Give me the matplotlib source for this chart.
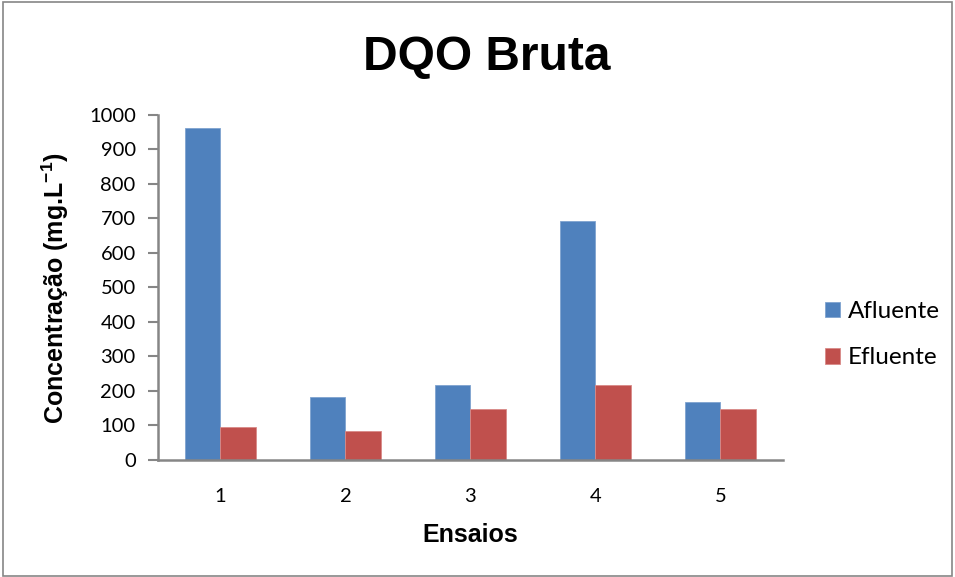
import numpy as np
import matplotlib
matplotlib.use("Agg")
import matplotlib.pyplot as plt
from matplotlib.patches import Rectangle

ensaios = ["1", "2", "3", "4", "5"]
afluente = [962, 183, 216, 693, 168]
efluente = [95, 83, 147, 216, 147]

plt.rcParams["mathtext.fontset"] = "custom"
plt.rcParams["mathtext.rm"] = "Liberation Sans:bold"
plt.rcParams["mathtext.bf"] = "Liberation Sans:bold"

fig = plt.figure(figsize=(9.55, 5.77), dpi=100)
ax = fig.add_axes([0.1654, 0.2028, 0.8199 - 0.1654, 0.8012 - 0.2028])

x = np.arange(len(ensaios))
w = 0.284
ax.bar(x - w / 2, afluente, w, color="#4F81BD", edgecolor="#7FA3CF", linewidth=0.6, label="Afluente")
ax.bar(x + w / 2, efluente, w, color="#C0504D", edgecolor="#D98A88", linewidth=0.6, label="Efluente")

ax.set_xlim(-0.5, len(ensaios) - 0.5)
ax.set_ylim(0, 1000)
ax.set_yticks(range(0, 1001, 100))
ax.set_xticks(x)
ax.set_xticklabels(ensaios)

for side in ["top", "right"]:
    ax.spines[side].set_visible(False)
for side in ["left", "bottom"]:
    ax.spines[side].set_color("#868686")
    ax.spines[side].set_linewidth(1.8)

ax.tick_params(axis="y", direction="out", length=7, width=1.5, color="#868686",
               labelsize=14.5, pad=9)
ax.tick_params(axis="x", length=0, labelsize=14.5, pad=20)
for lab in ax.get_xticklabels() + ax.get_yticklabels():
    lab.set_fontfamily("Lato")

fig.text(0.51, 0.901, "DQO Bruta", ha="center", va="center",
         fontsize=34.5, fontweight="bold", family="Liberation Sans")
fig.text(0.492, 0.073, "Ensaios", ha="center", va="center",
         fontsize=18, fontweight="bold", family="Liberation Sans")
fig.text(0.058, 0.5, "Concentração (mg.L$^{-1}$)", ha="center", va="center",
         rotation=90, fontsize=18, fontweight="bold", family="Liberation Sans")

leg = fig.legend(loc="center left", bbox_to_anchor=(0.864, 0.42), frameon=False,
                 prop={"family": "Lato", "size": 17.5}, handlelength=0.6,
                 handleheight=0.6, handletextpad=0.35, labelspacing=1.05,
                 borderaxespad=0, borderpad=0)

# chart frame
fig.patches.append(Rectangle((0.003, 0.002), 0.994, 0.994, transform=fig.transFigure,
                             fill=False, edgecolor="#868686", linewidth=1.2))

fig.savefig("out.png", dpi=100)
